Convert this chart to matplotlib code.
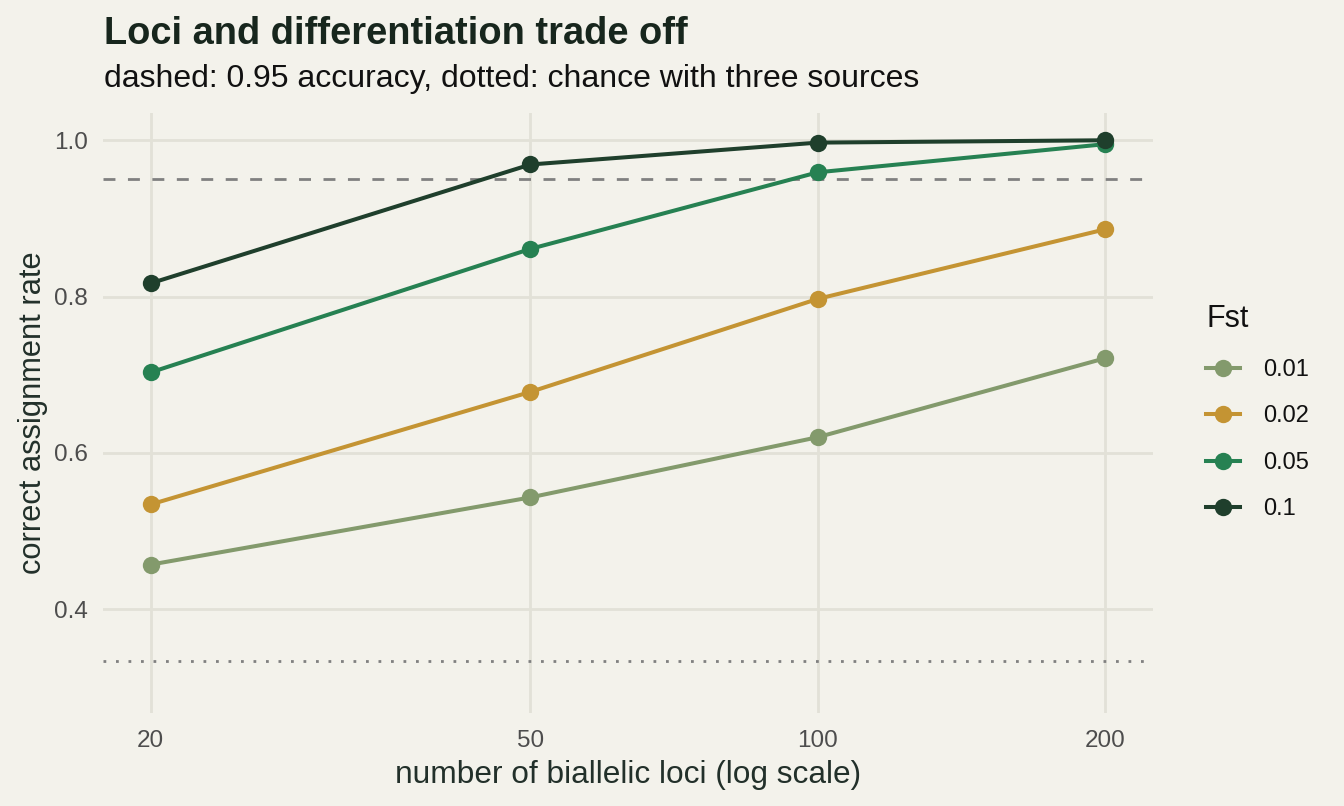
import matplotlib
matplotlib.use("Agg")
import matplotlib.pyplot as plt
import numpy as np
from matplotlib.lines import Line2D

plt.rcParams['font.family'] = ['Liberation Sans', 'DejaVu Sans']

loci = [20, 50, 100, 200]
fst_levels = ["0.01", "0.02", "0.05", "0.1"]
rate_001 = [0.457, 0.543, 0.620, 0.721]
rate_002 = [0.534, 0.678, 0.797, 0.886]
rate_005 = [0.703, 0.861, 0.959, 0.995]
rate_01 = [0.817, 0.969, 0.997, 1.000]
series = [rate_001, rate_002, rate_005, rate_01]
colors = ["#839A6C", "#C49433", "#268152", "#1F3F2C"]
accuracy_line = 0.95
chance_line = 1 / 3
y_ticks = [0.4, 0.6, 0.8, 1.0]
x_ticks = [20, 50, 100, 200]

bg = "#F3F2EB"
grid = "#E2E1D7"

fig = plt.figure(figsize=(13.44, 8.06), dpi=100, facecolor=bg)
ax = fig.add_axes([103/1344, 1 - 713/806, (1152.7-103)/1344, (713-113)/806])
ax.set_facecolor(bg)

ax.set_xscale('log')
lx0, lx1 = np.log10(20), np.log10(200)
pad = 0.05 * (lx1 - lx0)
ax.set_xlim(10**(lx0 - pad), 10**(lx1 + pad))
ymin, ymax = 0.302, 1.0
ypad = 0.05 * (ymax - ymin)
ax.set_ylim(ymin - ypad, ymax + ypad)

for s in ax.spines.values():
    s.set_visible(False)
ax.set_xticks(x_ticks)
ax.set_xticklabels([str(v) for v in x_ticks])
ax.xaxis.set_minor_locator(matplotlib.ticker.NullLocator())
ax.set_yticks(y_ticks)
ax.set_yticklabels([f"{v:.1f}" for v in y_ticks])
ax.tick_params(axis='both', length=0, labelsize=17.5, labelcolor="#4D4D4D")
ax.tick_params(axis='x', pad=12)
ax.tick_params(axis='y', pad=11)
ax.grid(True, which='major', color=grid, linewidth=2.0)
ax.set_axisbelow(True)

ax.axhline(accuracy_line, color="#808080", linewidth=2.0, linestyle=(0, (4.3, 4.5)), zorder=1.5)
ax.axhline(chance_line, color="#808080", linewidth=2.0, linestyle=(0, (1, 3.5)), zorder=1.5)

for vals, c, lab in zip(series, colors, fst_levels):
    ax.plot(loci, vals, color=c, linewidth=2.9, marker='o', markersize=12.5,
            markeredgewidth=0, label=lab, zorder=3)

ax.set_xlabel("number of biallelic loci (log scale)", fontsize=22.8, color="#22302A", labelpad=6)
ax.set_ylabel("correct assignment rate", fontsize=22.2, color="#22302A", labelpad=4.5)

fig.text(104/1344, 1 - 44/806, "Loci and differentiation trade off", fontsize=27.4,
         fontweight='bold', color="#17261D", ha='left', va='baseline')
fig.text(104/1344, 1 - 87/806, "dashed: 0.95 accuracy, dotted: chance with three sources",
         fontsize=23, color="#111111", ha='left', va='baseline')

handles = [Line2D([0], [0], color=c, linewidth=2.9, marker='o', markersize=12.5,
                  markeredgewidth=0) for c in colors]
leg = fig.legend(handles, fst_levels, loc='upper left', bbox_to_anchor=(1185/1344, 1 - 283/806),
                 frameon=False, title="Fst", fontsize=17, title_fontsize=22,
                 handlelength=1.45, handletextpad=0.95, labelspacing=1.04, alignment='left')
for t in leg.get_texts():
    t.set_color("#111111")
leg.get_title().set_color("#111111")

fig.savefig("out.png", dpi=100, facecolor=bg)
